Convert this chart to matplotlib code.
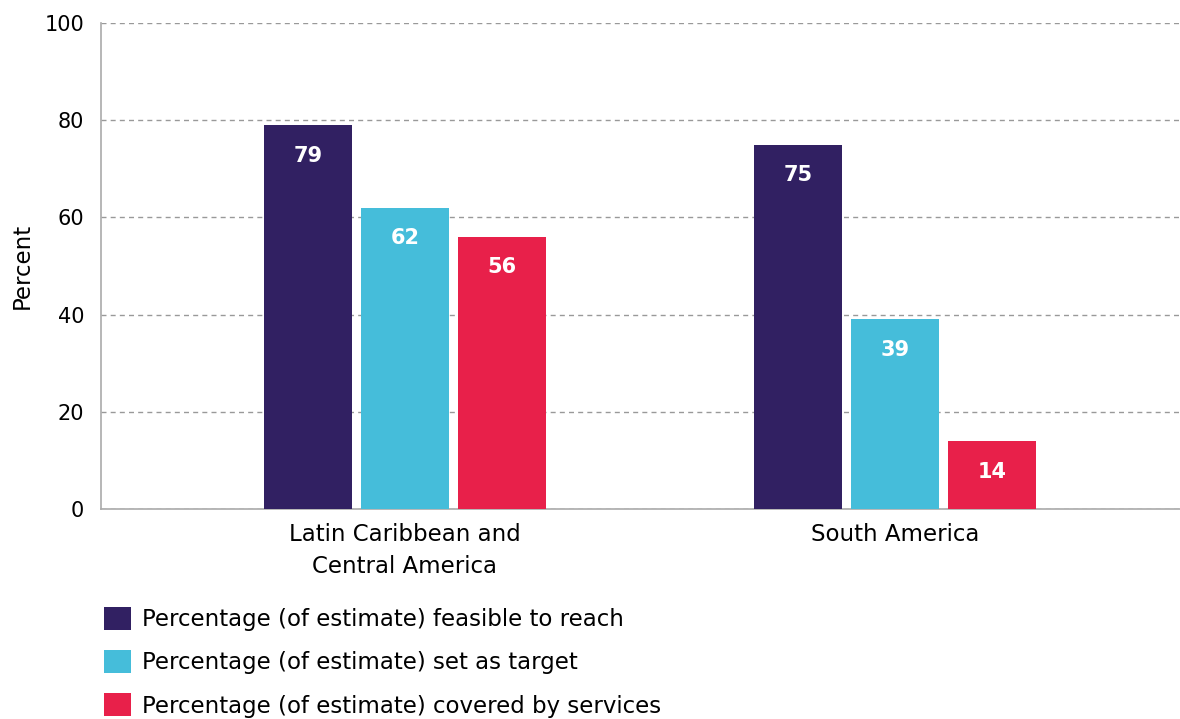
import numpy as np
import matplotlib.pyplot as plt

plt.rcParams['font.family'] = ['DejaVu Sans']

# Data
regions = ["Latin Caribbean and\nCentral America", "South America"]
feasible = [79, 75]
target = [62, 39]
covered = [56, 14]
series_names = ["Percentage (of estimate) feasible to reach",
                "Percentage (of estimate) set as target",
                "Percentage (of estimate) covered by services"]
colors = ["#312062", "#45BDDA", "#E8204A"]

fig = plt.figure(figsize=(11.8, 7.19), dpi=100)
ax = fig.add_axes([101/1180, 1 - 509/719, 1 - 101/1180, 486/719])

x = np.arange(len(regions))
width = 0.18
offset = 0.198

for i, (vals, name, col) in enumerate(zip([feasible, target, covered], series_names, colors)):
    bars = ax.bar(x + (i - 1)*offset, vals, width, color=col, label=name, zorder=3)
    for b, v in zip(bars, vals):
        ax.text(b.get_x() + b.get_width()/2, v - 6.3, str(v), ha='center', va='center',
                color='white', fontsize=15, fontweight='bold', zorder=4)

ax.set_xlim(-0.62, 1.582)
ax.set_ylim(0, 100)
ax.set_yticks([0, 20, 40, 60, 80, 100])
ax.set_xticks(x)
ax.set_xticklabels(regions, fontsize=16.5, linespacing=1.5)
ax.tick_params(axis='y', length=0, labelsize=15, colors='black', pad=12)
ax.tick_params(axis='x', length=0, colors='black', pad=10)

# grid
ax.yaxis.grid(True, color='#999999', linestyle=(0, (3.6, 3)), linewidth=1, zorder=0)

for s in ['top', 'right']:
    ax.spines[s].set_visible(False)
for s in ['left', 'bottom']:
    ax.spines[s].set_color('#aaaaaa')
    ax.spines[s].set_linewidth(1.2)

ax.set_ylabel("Percent", fontsize=16.5)
ax.yaxis.set_label_coords(-0.062, 0.5)

fig.legend(loc='upper left', bbox_to_anchor=(95/1180, 1 - 598/719), frameon=False,
           fontsize=16.5, handlelength=1.15, handleheight=1.15, handletextpad=0.5,
           labelspacing=0.83, borderaxespad=0)

fig.savefig("out.png", dpi=100)
